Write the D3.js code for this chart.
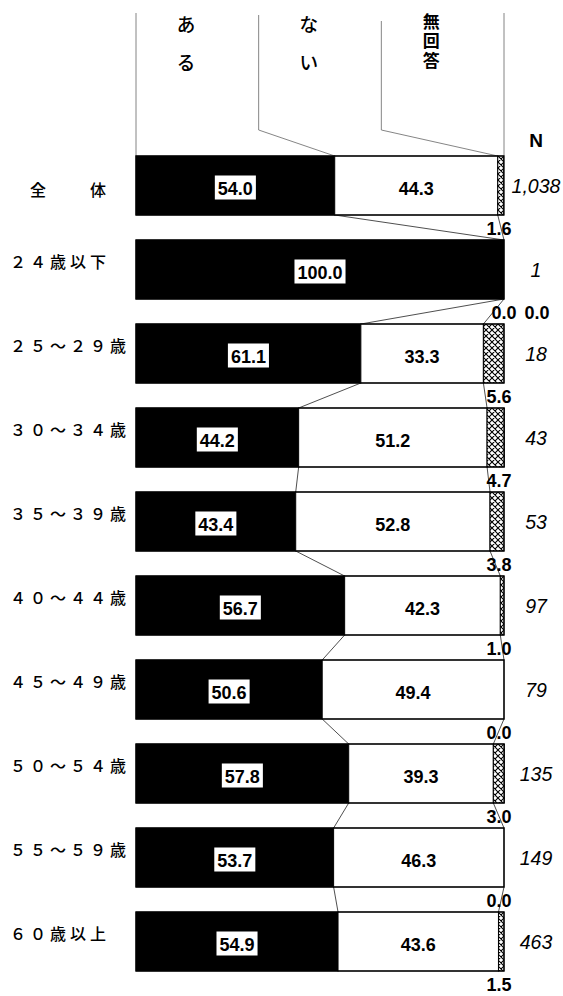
<!DOCTYPE html>
<html>
<head>
<meta charset="utf-8">
<script src="https://cdn.jsdelivr.net/npm/d3@7"></script>
<style>
  html, body { margin: 0; padding: 0; background: #fff; }
  svg { display: block; }
</style>
</head>
<body>
<svg id="chart" width="563" height="996"></svg>
<script>
// Age groups (row labels) and the three answer shares per group (%)
const categories = ["　全　　体", "２４歳以下", "２５～２９歳", "３０～３４歳", "３５～３９歳",
                    "４０～４４歳", "４５～４９歳", "５０～５４歳", "５５～５９歳", "６０歳以上"];
const seriesNames = ["ある", "ない", "無回答"];
const aru     = [54.0, 100.0, 61.1, 44.2, 43.4, 56.7, 50.6, 57.8, 53.7, 54.9];
const nai     = [44.3,   0.0, 33.3, 51.2, 52.8, 42.3, 49.4, 39.3, 46.3, 43.6];
const mukaito = [ 1.6,   0.0,  5.6,  4.7,  3.8,  1.0,  0.0,  3.0,  0.0,  1.5];
const nCounts = [1038, 1, 18, 43, 53, 97, 79, 135, 149, 463];

const rows = categories.map((c, i) => ({ cat: c, aru: aru[i], nai: nai[i], mu: mukaito[i], n: nCounts[i] }));
const keys = ["aru", "nai", "mu"];

const svg = d3.select("#chart");
const NUM_FONT = "'Liberation Sans', Arial, sans-serif";
const JP_FONT = "'Noto Sans CJK JP', sans-serif";

const x = d3.scaleLinear().domain([0, 100]).range([136, 504]);
const y = d3.scaleBand().domain(categories).range([156, 971]).paddingInner(25 / 84).paddingOuter(0);
const bh = y.bandwidth();

// cross-hatch fill for 無回答
const defs = svg.append("defs");
const pat = defs.append("pattern").attr("id", "hatch").attr("patternUnits", "userSpaceOnUse")
  .attr("width", 6).attr("height", 6);
pat.append("rect").attr("width", 6).attr("height", 6).attr("fill", "#fff");
pat.append("path").attr("d", "M0,0L6,6M6,0L0,6M-1,5L1,7M5,-1L7,1").attr("stroke", "#000").attr("stroke-width", 1.1);

const stack = d3.stack().keys(keys)(rows);
const fills = { aru: "#000", nai: "#fff", mu: "url(#hatch)" };

// header: column guides that bend to the segment boundaries of the first bar
const first = rows[0];
const headerCols = [0, 100 / 3, 200 / 3].map(v => x(v));
const guide = svg.append("g").attr("fill", "none").attr("stroke", "#777").attr("stroke-width", 0.9);
guide.append("line").attr("x1", x(0)).attr("x2", x(0)).attr("y1", 13).attr("y2", y(categories[0]));
guide.append("line").attr("x1", x(100)).attr("x2", x(100)).attr("y1", 13).attr("y2", y(categories[0]));
guide.append("path").attr("d", d3.line()([[headerCols[1], 15], [headerCols[1], 130], [x(first.aru), y(categories[0])]]));
guide.append("path").attr("d", d3.line()([[headerCols[2], 21], [headerCols[2], 130], [x(first.aru + first.nai), y(categories[0])]]));

// header labels, set vertically
seriesNames.forEach((name, i) => {
  const twoKana = name.length === 2;
  svg.append("text")
    .attr("x", headerCols[i] + 50)
    .attr("y", twoKana ? 15 : 13)
    .attr("writing-mode", "vertical-rl")
    .attr("font-family", JP_FONT)
    .attr("font-size", twoKana ? 19 : 17)
    .attr("font-weight", twoKana ? 500 : 700)
    .attr("letter-spacing", twoKana ? "19px" : "2.5px")
    .text(name);
});

svg.append("text").attr("x", 536).attr("y", 140).attr("dy", "0.35em")
  .attr("text-anchor", "middle").attr("font-family", NUM_FONT).attr("font-size", 19).attr("font-weight", 700)
  .text("N");

// connector lines between consecutive bars at the segment boundaries
const conn = svg.append("g").attr("stroke", "#222").attr("stroke-width", 0.8).attr("fill", "none");
for (let i = 0; i < rows.length - 1; i++) {
  const a = rows[i], b = rows[i + 1];
  const y0 = y(a.cat) + bh, y1 = y(b.cat);
  [[a.aru, b.aru], [a.aru + a.nai, b.aru + b.nai]].forEach(([u, v]) => {
    conn.append("line").attr("x1", x(u)).attr("y1", y0).attr("x2", x(v)).attr("y2", y1);
  });
}

// stacked segments
svg.append("g").selectAll("g").data(stack).join("g")
  .attr("fill", d => fills[d.key])
  .selectAll("rect").data(d => d).join("rect")
  .attr("x", d => x(d[0]))
  .attr("y", d => y(d.data.cat))
  .attr("width", d => Math.max(0, x(d[1]) - x(d[0])))
  .attr("height", bh)
  .attr("stroke", "#000")
  .attr("stroke-width", 1);

// bar outlines
svg.append("g").selectAll("rect").data(rows).join("rect")
  .attr("x", x(0)).attr("y", d => y(d.cat))
  .attr("width", x(100) - x(0)).attr("height", bh)
  .attr("fill", "none").attr("stroke", "#000").attr("stroke-width", 1.2);

const fmt = d3.format(".1f");

// ある values: black text on a white box
const aruG = svg.append("g").selectAll("g").data(rows).join("g");
aruG.each(function (d) {
  const g = d3.select(this);
  const cx = (x(0) + x(d.aru)) / 2;
  const t = g.append("text").attr("x", cx).attr("y", y(d.cat) + bh / 2 + 9)
    .attr("text-anchor", "middle").attr("font-family", NUM_FONT).attr("font-size", 18)
    .attr("font-weight", 700).text(fmt(d.aru));
  const bb = t.node().getBBox();
  g.insert("rect", "text").attr("x", bb.x - 3).attr("y", y(d.cat) + bh / 2 - 10)
    .attr("width", bb.width + 6).attr("height", 24).attr("fill", "#fff");
});

// ない values inside the white segment, or under the bar when there is no room
const numText = sel => sel.attr("font-family", NUM_FONT).attr("font-size", 18).attr("font-weight", 700)
  .attr("text-anchor", "middle");
svg.append("g").selectAll("text").data(rows).join("text")
  .call(numText)
  .attr("x", d => (x(d.aru + d.nai) - x(d.aru)) < 20 ? x(d.aru + d.nai) : (x(d.aru) + x(d.aru + d.nai)) / 2)
  .attr("y", d => (x(d.aru + d.nai) - x(d.aru)) < 20 ? y(d.cat) + bh + 19.5 : y(d.cat) + bh / 2 + 9)
  .text(d => fmt(d.nai));

// 無回答 values under the bar's right end
svg.append("g").selectAll("text").data(rows).join("text")
  .call(numText)
  .attr("x", d => (x(d.aru + d.nai) - x(d.aru)) < 20 ? x(100) + 33 : x(100) - 5)
  .attr("y", d => y(d.cat) + bh + 19.5)
  .text(d => fmt(d.mu));

// sample sizes
svg.append("g").selectAll("text").data(rows).join("text")
  .attr("x", 536).attr("y", d => y(d.cat) + bh / 2 + 7)
  .attr("text-anchor", "middle").attr("font-family", NUM_FONT).attr("font-size", 19.5)
  .attr("font-style", "italic")
  .text(d => d3.format(",")(d.n));

// row labels
svg.append("g").selectAll("text").data(rows).join("text")
  .attr("x", 10)
  .attr("y", (d, i) => y(d.cat) + (i === 0 ? 34 : 22))
  .attr("dy", "0.35em")
  .attr("font-family", JP_FONT).attr("font-size", 16).attr("font-weight", 500)
  .attr("letter-spacing", "4px")
  .text(d => d.cat);
</script>
</body>
</html>
